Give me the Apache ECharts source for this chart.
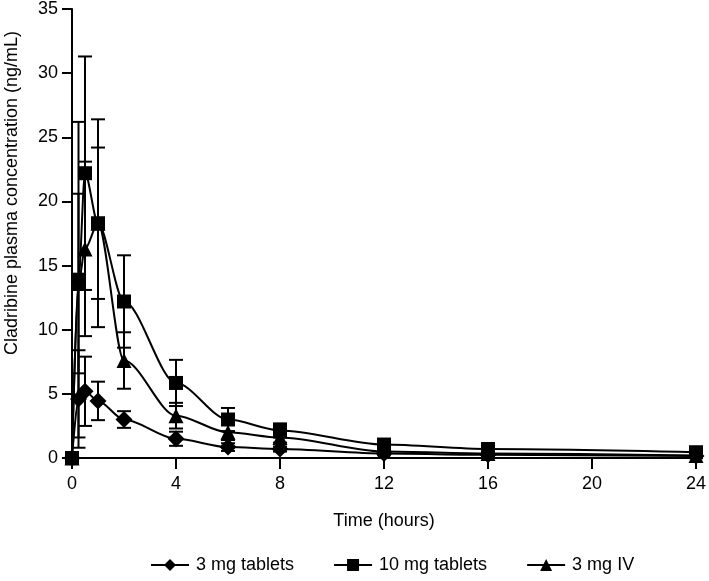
<!DOCTYPE html>
<html>
<head>
<meta charset="utf-8">
<script src="https://cdn.jsdelivr.net/npm/echarts@6/dist/echarts.min.js"></script>
<style>
html,body{margin:0;padding:0;background:#fff;}
#chart{width:709px;height:581px;}
</style>
</head>
<body>
<div id="chart"></div>
<script>
// Time points (hours)
const times = [0, 0.25, 0.5, 1, 2, 4, 6, 8, 12, 16, 24];

// 3 mg tablets (diamond)
const tab3Mean = [0, 4.6, 5.2, 4.45, 3.0, 1.5, 0.85, 0.7, 0.35, 0.25, 0.15];
const tab3SD   = [0, 3.8, 2.7, 1.5, 0.65, 0.55, 0.3, 0.2, 0.1, 0.1, 0.05];

// 10 mg tablets (square)
const tab10Mean = [0, 13.9, 22.2, 18.3, 12.2, 5.85, 3.0, 2.15, 1.05, 0.7, 0.45];
const tab10SD   = [0, 12.3, 9.1, 8.1, 3.6, 1.8, 0.9, 0.55, 0.3, 0.25, 0.2];

// 3 mg IV (triangle)
const iv3Mean = [0, 13.6, 16.3, 18.3, 7.6, 3.3, 2.0, 1.6, 0.5, 0.35, 0.2];
const iv3SD   = [0, 7.0, 6.8, 5.9, 2.2, 1.0, 0.6, 0.4, 0.15, 0.1, 0.05];

const seriesNames = ['3 mg tablets', '10 mg tablets', '3 mg IV'];
const xTicks = [0, 4, 8, 12, 16, 20, 24];
const yTicks = [0, 5, 10, 15, 20, 25, 30, 35];
const yTitle = 'Cladribine plasma concentration (ng/mL)';
const xTitle = 'Time (hours)';

const FONT = 'Liberation Sans, Arial, sans-serif';
const FS = 18;

function pts(mean) { return times.map((t, i) => [t, mean[i]]); }
function errData(mean, sd) { return times.map((t, i) => [t, mean[i] - sd[i], mean[i] + sd[i]]); }

function errSeries(mean, sd) {
  return {
    type: 'custom',
    silent: true,
    z: 1,
    data: errData(mean, sd),
    renderItem: function (params, api) {
      const x = api.value(0), lo = api.value(1), hi = api.value(2);
      if (hi - lo <= 0) return null;
      const pLo = api.coord([x, lo]);
      const pHi = api.coord([x, hi]);
      const w = 7;
      const style = { stroke: '#000', lineWidth: 2 };
      return {
        type: 'group',
        children: [
          { type: 'line', shape: { x1: pLo[0], y1: pLo[1], x2: pHi[0], y2: pHi[1] }, style: style },
          { type: 'line', shape: { x1: pLo[0] - w, y1: pLo[1], x2: pLo[0] + w, y2: pLo[1] }, style: style },
          { type: 'line', shape: { x1: pHi[0] - w, y1: pHi[1], x2: pHi[0] + w, y2: pHi[1] }, style: style }
        ]
      };
    }
  };
}

function lineSeries(name, mean, symbol, size) {
  return {
    name: name,
    type: 'line',
    z: 3,
    data: pts(mean),
    symbol: symbol,
    symbolSize: size,
    smooth: 0.3,
    smoothMonotone: 'x',
    lineStyle: { color: '#000', width: 2 },
    itemStyle: { color: '#000' },
    emphasis: { disabled: true }
  };
}

const diamondPath = 'path://M0,-1 L1,0 L0,1 L-1,0 Z';
const trianglePath = 'path://M0,-1 L1,0.8 L-1,0.8 Z';

const chart = echarts.init(document.getElementById('chart'), null, { renderer: 'canvas' });
chart.setOption({
  animation: false,
  backgroundColor: '#fff',
  textStyle: { fontFamily: FONT, color: '#000' },
  grid: { left: 72, right: 11, top: 7, bottom: 123, containLabel: false },
  graphic: [{
    type: 'text',
    x: 12,
    y: 193,
    rotation: Math.PI / 2,
    style: {
      text: yTitle,
      fontFamily: FONT,
      fontSize: FS,
      fill: '#000',
      align: 'center',
      verticalAlign: 'middle'
    }
  }],
  xAxis: {
    type: 'value',
    min: xTicks[0], max: xTicks[xTicks.length - 1], interval: 4,
    name: xTitle,
    nameLocation: 'middle',
    nameGap: 54,
    nameTextStyle: { fontFamily: FONT, fontSize: FS, color: '#000' },
    axisLine: { show: true, lineStyle: { color: '#000', width: 2 } },
    axisTick: { show: true, length: 11, lineStyle: { color: '#000', width: 2 } },
    axisLabel: { fontFamily: FONT, fontSize: FS, color: '#000', margin: 17 },
    splitLine: { show: false }
  },
  yAxis: {
    type: 'value',
    min: yTicks[0], max: yTicks[yTicks.length - 1], interval: 5,
    axisLine: { show: true, lineStyle: { color: '#000', width: 2 } },
    axisTick: { show: true, length: 10, lineStyle: { color: '#000', width: 2 } },
    axisLabel: { fontFamily: FONT, fontSize: FS, color: '#000', margin: 14 },
    splitLine: { show: false }
  },
  legend: {
    bottom: 2,
    left: 145,
    itemGap: 39,
    itemWidth: 38,
    itemHeight: 15,
    textStyle: { fontFamily: FONT, fontSize: FS, color: '#000', padding: [0, 0, 0, 2] },
    data: seriesNames
  },
  series: [
    errSeries(tab3Mean, tab3SD),
    errSeries(tab10Mean, tab10SD),
    errSeries(iv3Mean, iv3SD),
    lineSeries(seriesNames[0], tab3Mean, diamondPath, 17),
    lineSeries(seriesNames[1], tab10Mean, 'rect', 14),
    lineSeries(seriesNames[2], iv3Mean, trianglePath, 15)
  ]
});
</script>
</body>
</html>
